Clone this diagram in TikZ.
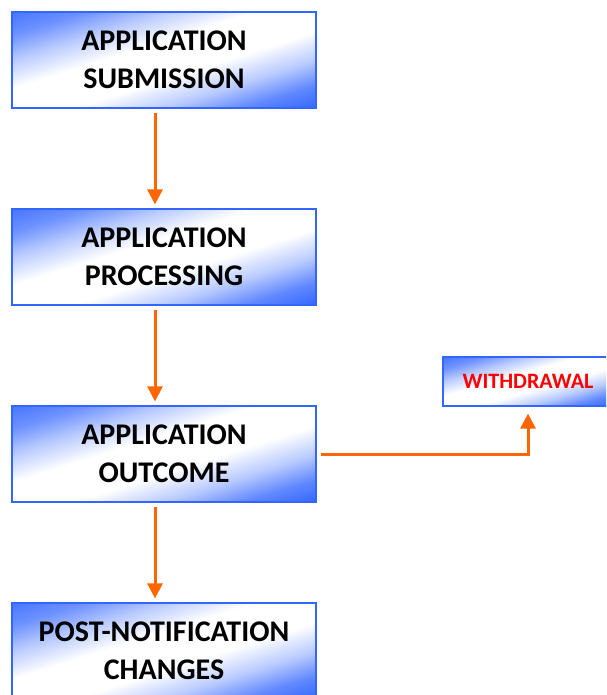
\documentclass[tikz,border=0pt]{standalone}
\usepackage{fontspec}
\setmainfont{Carlito}
\usepackage{tikz}
\usetikzlibrary{arrows.meta}
\definecolor{boxblue}{HTML}{3366FF}
\definecolor{arrorange}{HTML}{FF6600}
\definecolor{alertred}{HTML}{FF0000}
\pgfdeclareverticalshading{stageshade}{100bp}{color(0bp)=(boxblue); color(12bp)=(boxblue!78!white); color(25bp)=(boxblue!35!white); color(40bp)=(white); color(60bp)=(white); color(75bp)=(boxblue!35!white); color(88bp)=(boxblue!72!white); color(100bp)=(boxblue!90!white)}
% diagonal fill, stretched to the box
\newcommand\stagefill{%
  \pgfpointdiff{\pgfpointanchor{path picture bounding box}{center}}{\pgfpointanchor{path picture bounding box}{north east}}%
  \pgfgetlastxy{\stagehw}{\stagehh}%
  \pgftransformshift{\pgfpointanchor{path picture bounding box}{center}}%
  \pgftransformxscale{\stagehw*0.0283}%
  \pgftransformyscale{\stagehh*0.0283}%
  \pgftransformrotate{45}%
  \pgflowlevelsynccm\pgfuseshading{stageshade}}
\tikzstyle{stage} = [draw=boxblue, line width=1.2pt, path picture={\stagefill}, align=center, inner sep=0pt]
\tikzstyle{bigstage} = [stage, minimum width=304pt, minimum height=96pt, font=\fontsize{30}{38}\selectfont\bfseries]
\tikzstyle{es} = [draw=arrorange, line width=3pt, -{Triangle[width=15pt,length=15pt]}]

\begin{document}
\begin{tikzpicture}[yscale=-1]
			\clip (0pt,0pt) rectangle (606pt,695pt);
			\node[bigstage] (submission) at (164pt,60pt) {APPLICATION\\SUBMISSION};
			\node[bigstage] (processing) at (164pt,257pt) {APPLICATION\\PROCESSING};
			\node[bigstage] (outcome) at (164pt,454pt) {APPLICATION\\OUTCOME};
			\node[bigstage] (changes) at (164pt,651pt) {POST-NOTIFICATION\\CHANGES};
			\node[stage, minimum width=170pt, minimum height=49pt, font=\fontsize{22}{26}\selectfont\bfseries, text=alertred] (withdrawal) at (528pt,381.5pt) {WITHDRAWAL};
			\draw[es, shorten <=4pt, shorten >=4pt] ([xshift=-9pt]submission.south) -- ([xshift=-9pt]processing.north);
			\draw[es, shorten <=4pt, shorten >=4pt] ([xshift=-9pt]processing.south) -- ([xshift=-9pt]outcome.north);
			\draw[es, shorten <=4pt, shorten >=4pt] ([xshift=-9pt]outcome.south) -- ([xshift=-9pt]changes.north);
			\draw[es, shorten >=7pt] ([xshift=4pt]outcome.east) -| (withdrawal.south);
		\end{tikzpicture}
\end{document}
